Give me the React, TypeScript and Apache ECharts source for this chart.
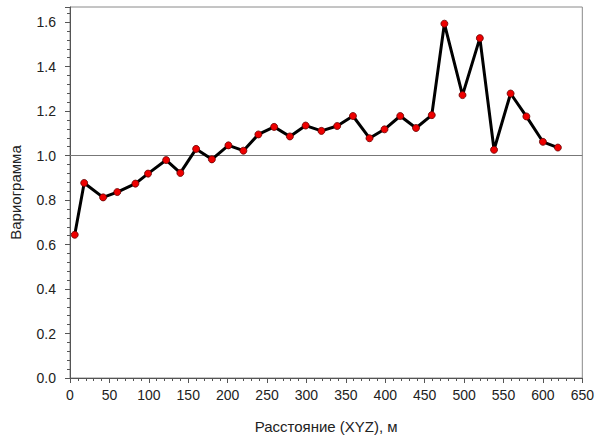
import React, { useEffect, useRef } from "react";
import * as echarts from "echarts";

const lagDistances = [6, 18, 42, 60, 83, 99, 122, 140, 160, 180, 201, 220, 239, 259, 279, 299, 319, 339, 359, 380, 399, 419, 439, 459, 475, 498, 520, 538, 559, 579, 600, 619];
const variogramValues = [0.644, 0.877, 0.812, 0.836, 0.874, 0.919, 0.98, 0.922, 1.03, 0.983, 1.046, 1.022, 1.095, 1.129, 1.086, 1.135, 1.111, 1.133, 1.178, 1.078, 1.118, 1.178, 1.124, 1.182, 1.593, 1.272, 1.528, 1.026, 1.279, 1.176, 1.062, 1.036];
const sillLevel = 1.0;
const xAxisTitle = "Расстояние (XYZ), м";
const yAxisTitle = "Вариограмма";

export default function App() {
  const ref = useRef<HTMLDivElement>(null);
  useEffect(() => {
    if (!ref.current) return;
    const chart = echarts.init(ref.current, null, { renderer: "svg" });
    const font = "'Liberation Sans', Arial, sans-serif";
    chart.setOption({
      animation: false,
      backgroundColor: "#ffffff",
      grid: {
        left: 70,
        right: 11,
        top: 7,
        bottom: 61,
        show: true,
        borderColor: "#8a8a8a",
        borderWidth: 1,
      },
      xAxis: {
        type: "value",
        min: 0,
        max: 650,
        interval: 50,
        name: xAxisTitle,
        nameLocation: "middle",
        nameGap: 41,
        nameTextStyle: { fontFamily: font, fontSize: 15, color: "#222" },
        axisLine: { show: true, lineStyle: { color: "#555", width: 1 } },
        axisTick: { show: true, inside: false, length: 5, lineStyle: { color: "#555" } },
        minorTick: { show: true, splitNumber: 5, length: 3, lineStyle: { color: "#555" } },
        axisLabel: { fontFamily: font, fontSize: 14, color: "#222", margin: 10 },
        splitLine: { show: false },
      },
      yAxis: {
        type: "value",
        min: 0,
        max: 1.668,
        interval: 0.2,
        name: yAxisTitle,
        nameLocation: "middle",
        nameGap: 47,
        nameRotate: 90,
        nameTextStyle: { fontFamily: font, fontSize: 15, color: "#222" },
        axisLine: { show: true, lineStyle: { color: "#555", width: 1 } },
        axisTick: { show: true, inside: false, length: 5, lineStyle: { color: "#555" } },
        minorTick: { show: true, splitNumber: 5, length: 3, lineStyle: { color: "#555" } },
        axisLabel: {
          fontFamily: font,
          fontSize: 14,
          color: "#222",
          margin: 14,
          formatter: (v: number) => (v > 1.65 ? "" : v.toFixed(1)),
        },
        splitLine: { show: false },
      },
      series: [
        {
          type: "line",
          data: lagDistances.map((x, i) => [x, variogramValues[i]]),
          symbol: "circle",
          symbolSize: 7,
          lineStyle: { color: "#000", width: 3 },
          itemStyle: { color: "#ee0000", borderColor: "#600", borderWidth: 0.8 },
          z: 3,
          markLine: {
            silent: true,
            symbol: "none",
            label: { show: false },
            lineStyle: { color: "#777", type: "solid", width: 1 },
            data: [{ yAxis: sillLevel }],
            z: 1,
          },
        },
      ],
    });
    return () => chart.dispose();
  }, []);
  return (
    <div
      ref={ref}
      style={{ position: "fixed", left: 0, top: 0, width: 597, height: 439, background: "#fff" }}
    />
  );
}
